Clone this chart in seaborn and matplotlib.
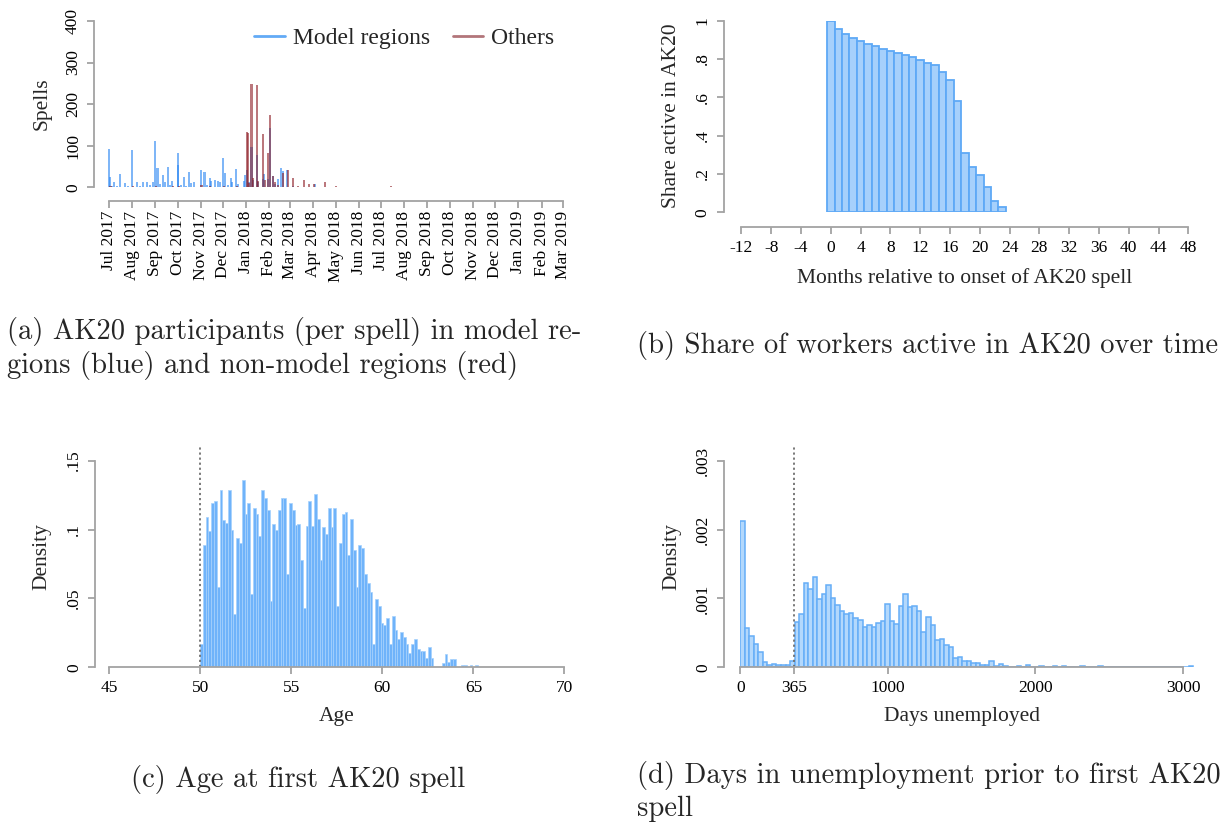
import numpy as np
import pandas as pd
import matplotlib
matplotlib.use("Agg")
import matplotlib.pyplot as plt
import matplotlib.dates as mdates
from matplotlib.lines import Line2D
import seaborn as sns

# ---------------- (a) AK20 spells by start date ----------------
blue_dates = [
    "2017-07-01", "2017-07-02", "2017-07-05", "2017-07-08", "2017-07-12", "2017-07-16",
    "2017-07-23", "2017-07-27", "2017-08-01", "2017-08-07", "2017-08-11", "2017-08-15",
    "2017-08-21", "2017-08-25", "2017-08-29", "2017-09-01", "2017-09-04", "2017-09-07",
    "2017-09-11", "2017-09-14", "2017-09-18", "2017-09-21", "2017-09-24", "2017-10-01",
    "2017-10-02", "2017-10-05", "2017-10-09", "2017-10-12", "2017-10-16", "2017-10-19",
    "2017-10-23", "2017-11-01", "2017-11-06", "2017-11-09", "2017-11-13", "2017-11-15",
    "2017-11-20", "2017-11-24", "2017-11-27", "2017-12-01", "2017-12-04", "2017-12-07",
    "2017-12-11", "2017-12-13", "2017-12-18", "2017-12-21", "2017-12-29", "2017-12-30",
    "2018-01-02", "2018-01-05", "2018-01-08", "2018-01-10", "2018-01-15", "2018-01-17",
    "2018-01-23", "2018-01-25", "2018-01-30", "2018-02-02", "2018-02-06", "2018-02-09",
    "2018-02-13", "2018-02-16", "2018-02-19", "2018-02-25", "2018-03-05", "2018-04-03",
]
blue_counts = [
    92, 25, 4, 12, 3, 33,
    10, 3, 89, 12, 4, 13,
    13, 5, 13, 111, 46, 8,
    30, 12, 49, 6, 15, 82,
    54, 5, 24, 4, 36, 10,
    13, 41, 37, 5, 22, 15,
    18, 14, 12, 70, 34, 5,
    22, 13, 44, 8, 14, 30,
    42, 12, 98, 18, 78, 12,
    20, 32, 20, 142, 28, 8,
    20, 46, 38, 42, 3, 7,
]
red_dates = [
    "2017-07-03", "2017-08-02", "2017-09-02", "2017-09-25", "2017-10-03", "2017-11-02",
    "2017-11-14", "2017-12-02", "2017-12-19", "2018-01-02", "2018-01-03", "2018-01-05",
    "2018-01-08", "2018-01-10", "2018-01-15", "2018-01-17", "2018-01-23", "2018-01-26",
    "2018-01-30", "2018-02-02", "2018-02-06", "2018-02-09", "2018-02-13", "2018-02-19",
    "2018-02-26", "2018-03-05", "2018-03-12", "2018-03-19", "2018-03-26", "2018-04-02",
    "2018-04-16", "2018-05-01", "2018-05-08", "2018-05-14", "2018-06-15", "2018-07-03",
    "2018-07-14", "2018-07-28", "2018-08-06", "2018-08-31", "2018-10-16", "2018-11-05",
    "2018-11-22", "2018-12-10", "2019-03-01",
]
red_counts = [
    2, 3, 4, 2, 3, 5,
    3, 4, 3, 134, 130, 10,
    248, 22, 247, 14, 128, 18,
    83, 174, 28, 12, 6, 35,
    42, 22, 4, 17, 8, 8,
    13, 2, 1, 1, 1, 1,
    2, 1, 1, 1, 1, 1,
    1, 1, 1,
]
month_labels = [
    "Jul 2017", "Aug 2017", "Sep 2017", "Oct 2017", "Nov 2017", "Dec 2017",
    "Jan 2018", "Feb 2018", "Mar 2018", "Apr 2018", "May 2018", "Jun 2018",
    "Jul 2018", "Aug 2018", "Sep 2018", "Oct 2018", "Nov 2018", "Dec 2018",
    "Jan 2019", "Feb 2019", "Mar 2019",
]
spell_ticks = [0, 100, 200, 300, 400]

# ---------------- (b) share still active ----------------
months_rel = list(range(24))
share_active = [
    1.000, 0.958, 0.929, 0.908, 0.896, 0.877, 0.866, 0.850, 0.843, 0.830,
    0.819, 0.810, 0.797, 0.781, 0.770, 0.730, 0.689, 0.579, 0.308, 0.235,
    0.193, 0.134, 0.057, 0.026,
]
month_ticks = list(range(-12, 49, 4))
share_ticks = [0, 0.2, 0.4, 0.6, 0.8, 1.0]
share_ticklabels = ["0", ".2", ".4", ".6", ".8", "1"]

# ---------------- (c) age at first spell ----------------
age_density = [
    0.017, 0.0885, 0.109, 0.099, 0.119, 0.121, 0.058, 0.129, 0.107, 0.105,
    0.129, 0.100, 0.039, 0.094, 0.090, 0.136, 0.111, 0.119, 0.053, 0.116,
    0.111, 0.095, 0.129, 0.123, 0.114, 0.048, 0.104, 0.100, 0.114, 0.123,
    0.123, 0.068, 0.119, 0.114, 0.103, 0.104, 0.078, 0.043, 0.1024, 0.121,
    0.1026, 0.1258, 0.1074, 0.078, 0.102, 0.097, 0.116, 0.102, 0.116, 0.0445,
    0.090, 0.111, 0.1125, 0.0815, 0.1074, 0.085, 0.058, 0.0885, 0.0866, 0.068,
    0.061, 0.0547, 0.0169, 0.0496, 0.0445, 0.032, 0.0307, 0.0358, 0.0169, 0.0372,
    0.0271, 0.0203, 0.0256, 0.0218, 0.0169, 0.0106, 0.0169, 0.0203, 0.0131, 0.0118,
    0.0118, 0.0065, 0.015, 0.0065, 0.0, 0.0, 0.0, 0.003, 0.010, 0.004,
    0.006, 0.006, 0.0, 0.0, 0.002, 0.002, 0.0, 0.002, 0.0, 0.002,
]
age_bin_start = 50.0
age_bin_width = 0.1525
age_ticks = [45, 50, 55, 60, 65, 70]
age_cutoff = 50
age_yticks = [0, 0.05, 0.10, 0.15]
age_yticklabels = ["0", ".05", ".1", ".15"]

# ---------------- (d) days unemployed before first spell ----------------
days_density = [
    0.00212, 0.000566, 0.000459, 0.000343, 0.000218, 0.0000726, 0.000029, 0.000044, 0.000029, 0.00004,
    0.000029, 0.000087, 0.000653, 0.00077, 0.00123, 0.00113, 0.00131, 0.000996, 0.00106, 0.00119,
    0.00101, 0.00091, 0.000813, 0.000774, 0.000788, 0.000711, 0.000692, 0.00059, 0.000614, 0.00058,
    0.000639, 0.000672, 0.00092, 0.000672, 0.000633, 0.000895, 0.00107, 0.000876, 0.000895, 0.000818,
    0.000513, 0.000726, 0.00061, 0.000396, 0.000411, 0.000319, 0.0003, 0.000131, 0.000145, 0.000087,
    0.000087, 0.000058, 0.000058, 0.000029, 0.00004, 0.000087, 0.000015, 0.00005, 0.00002, 0.00001,
    0.00001, 0.00002, 0.0, 0.00003, 0.00001, 0.0, 0.00002, 0.00001, 0.0, 0.00002,
    0.0, 0.00002, 0.0, 0.00001, 0.0, 0.00002, 0.0, 0.0, 0.0, 0.00002,
    0.0, 0.0, 0.0, 0.0, 0.0, 0.0, 0.0, 0.0, 0.0, 0.0,
    0.0, 0.0, 0.0, 0.0, 0.0, 0.0, 0.0, 0.0, 0.0, 0.00002,
]
days_bin_width = 30.7
days_ticks = [0, 365, 1000, 2000, 3000]
days_cutoff = 365
days_yticks = [0, 0.001, 0.002, 0.003]
days_yticklabels = ["0", ".001", ".002", ".003"]

# ---------------- styling ----------------
sns.set_theme(style="white")
plt.rcParams["font.family"] = ["Liberation Serif", "DejaVu Serif"]

W, H = 1228, 826
PX = 0.72                      # points per pixel at 100 dpi
AXIS_GRAY = "#a3a3a3"
BLUE_BAR = "#2a86f2"
RED_BAR = "#8e1f26"
TICK_FS = 12.5
LABEL_FS = 15.5
CAPTION_FS = 20.6

fig = plt.figure(figsize=(W / 100, H / 100), dpi=100)


def add_px_axes(left, top, right, bottom):
    return fig.add_axes([left / W, 1 - bottom / H, (right - left) / W, (bottom - top) / H])


def style_axes(ax, left_out, bottom_out, ybounds, xbounds):
    for s in ("top", "right"):
        ax.spines[s].set_visible(False)
    for s in ("left", "bottom"):
        ax.spines[s].set_visible(True)
        ax.spines[s].set_color(AXIS_GRAY)
        ax.spines[s].set_linewidth(1.3)
    ax.spines["left"].set_position(("outward", left_out * PX))
    ax.spines["bottom"].set_position(("outward", bottom_out * PX))
    ax.spines["left"].set_bounds(*ybounds)
    ax.spines["bottom"].set_bounds(*xbounds)
    ax.tick_params(axis="both", which="both", direction="out", length=5.3, width=1.3,
                   color=AXIS_GRAY, labelsize=TICK_FS, labelcolor="black",
                   bottom=True, left=True, top=False, right=False)
    ax.set_facecolor("none")
    ax.grid(False)
    ax.set_xlabel("")
    ax.set_ylabel("")


def px_text(x, y, s, **kw):
    return fig.text(x / W, 1 - y / H, s, **kw)


# ---- (a) ----
ax_a = add_px_axes(109, 20.9, 562.5, 187.3)
bars_b = ax_a.bar(pd.to_datetime(blue_dates), blue_counts, width=2.8,
                  color=BLUE_BAR, alpha=0.6, linewidth=0)
bars_r = ax_a.bar(pd.to_datetime(red_dates), red_counts, width=2.8,
                  color=RED_BAR, alpha=0.6, linewidth=0)
for p in list(bars_b.patches) + list(bars_r.patches):
    p.set_clip_on(False)
x0, x1 = pd.Timestamp("2017-07-01"), pd.Timestamp("2019-03-01")
ax_a.set_xlim(x0, x1)
ax_a.set_ylim(0, 400)
month_pos = pd.date_range(x0, x1, freq="MS")
style_axes(ax_a, 15, 13.3, (0, 400), (mdates.date2num(x0), mdates.date2num(x1)))
ax_a.set_xticks(month_pos, month_labels, rotation=90, va="top", ha="center")
ax_a.set_yticks(spell_ticks, [str(v) for v in spell_ticks], rotation=90, va="center")
ax_a.tick_params(axis="x", pad=2.0)
ax_a.tick_params(axis="y", pad=4.0)
px_text(42, 104, "Spells", rotation=90, ha="center", va="center", fontsize=LABEL_FS)
handles = [Line2D([], [], color="#62aaf6", lw=2.0),
           Line2D([], [], color="#b2757a", lw=2.0)]
fig.legend(handles, ["Model regions", "Others"], loc="center left",
           bbox_to_anchor=(254 / W, 1 - 38.3 / H), ncol=2, frameon=False,
           fontsize=17, handlelength=1.3, handletextpad=0.34, columnspacing=0.97,
           borderpad=0, borderaxespad=0)

# ---- (b) ----
ax_b = add_px_axes(741.4, 20.7, 1188.4, 212.3)
df_b = pd.DataFrame({"month": months_rel, "share": share_active})
sns.histplot(data=df_b, x="month", weights="share", discrete=True, stat="count",
             facecolor="#a6d0fb", edgecolor="#5ea9f6", linewidth=1.3, alpha=1, ax=ax_b)
ax_b.set_xlim(-12, 48)
ax_b.set_ylim(0, 1)
style_axes(ax_b, 17.8, 14.4, (0, 1), (-12, 48))
ax_b.set_xticks(month_ticks, [str(v) for v in month_ticks])
ax_b.set_yticks(share_ticks, share_ticklabels, rotation=90, va="center")
ax_b.tick_params(axis="x", pad=4.5)
ax_b.tick_params(axis="y", pad=4.0)
px_text(672, 116, "Share active in AK20", rotation=90, ha="center", va="center", fontsize=LABEL_FS)
px_text(965, 278.5, "Months relative to onset of AK20 spell", ha="center", va="center", fontsize=LABEL_FS)

# ---- (c) ----
ax_c = add_px_axes(109, 446.9, 564.5, 667.3)
age_edges = age_bin_start + age_bin_width * np.arange(len(age_density) + 1)
df_c = pd.DataFrame({"age": age_edges[:-1] + age_bin_width / 2, "density": age_density})
sns.histplot(data=df_c, x="age", weights="density", bins=age_edges.tolist(), stat="count",
             facecolor="#6fb3fa", edgecolor="#a6d1fc", linewidth=0.5, alpha=1, ax=ax_c)
ax_c.axvline(age_cutoff, color="#6f6f6f", linestyle=(0, (1.2, 1.6)), linewidth=1.3)
ax_c.set_xlim(45, 70)
ax_c.set_ylim(0, 0.16)
style_axes(ax_c, 14.1, 0, (0, 0.15), (45, 70))
ax_c.set_xticks(age_ticks, [str(v) for v in age_ticks])
ax_c.set_yticks(age_yticks, age_yticklabels, rotation=90, va="center")
ax_c.tick_params(axis="x", pad=3.6)
ax_c.tick_params(axis="y", pad=4.0)
px_text(42, 557, "Density", rotation=90, ha="center", va="center", fontsize=LABEL_FS)
px_text(337, 717, "Age", ha="center", va="center", fontsize=LABEL_FS)

# ---- (d) ----
ax_d = add_px_axes(740.2, 446.9, 1195, 667.3)
days_edges = days_bin_width * np.arange(len(days_density) + 1)
df_d = pd.DataFrame({"days": days_edges[:-1] + days_bin_width / 2, "density": days_density})
sns.histplot(data=df_d, x="days", weights="density", bins=days_edges.tolist(), stat="count",
             facecolor="#b3d8fc", edgecolor="#66aef7", linewidth=1.1, alpha=1, ax=ax_d)
ax_d.axvline(days_cutoff, color="#6f6f6f", linestyle=(0, (1.2, 1.6)), linewidth=1.3)
ax_d.set_xlim(0, 3081)
ax_d.set_ylim(0, 0.0032)
style_axes(ax_d, 16.3, 0, (0, 0.003), (0, 3000))
ax_d.set_xticks(days_ticks, [str(v) for v in days_ticks])
ax_d.set_yticks(days_yticks, days_yticklabels, rotation=90, va="center")
ax_d.tick_params(axis="x", pad=3.6)
ax_d.tick_params(axis="y", pad=4.0)
px_text(672, 557, "Density", rotation=90, ha="center", va="center", fontsize=LABEL_FS)
px_text(962, 717, "Days unemployed", ha="center", va="center", fontsize=LABEL_FS)

# ---- sub-figure captions ----
cap = dict(fontfamily="cmr10", fontsize=CAPTION_FS, ha="left", va="center")
px_text(7, 331, "(a) AK20 participants (per spell) in model re-", **cap)
px_text(7, 366, "gions (blue) and non-model regions (red)", **cap)
px_text(637, 345, "(b) Share of workers active in AK20 over time", **cap)
px_text(298, 780, "(c) Age at first AK20 spell", **{**cap, "ha": "center"})
px_text(637, 776, "(d) Days in unemployment prior to first AK20", **cap)
px_text(637, 809, "spell", **cap)

fig.savefig("out.png", dpi=100, facecolor="white")
